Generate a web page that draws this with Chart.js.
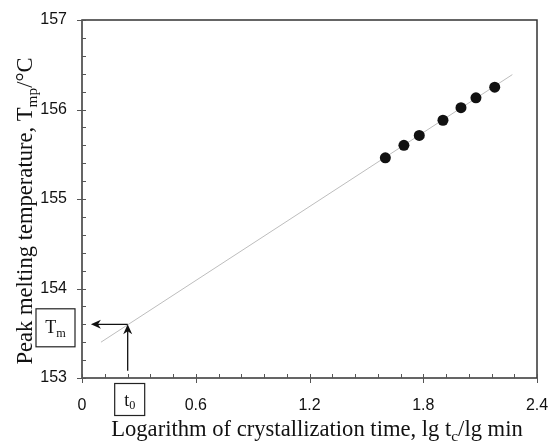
<!DOCTYPE html>
<html>
<head>
<meta charset="utf-8">
<script src="https://cdn.jsdelivr.net/npm/chart.js@4.4.1/dist/chart.umd.min.js"></script>
<style>
  html, body { margin: 0; padding: 0; background: #fff; }
  #wrap { width: 551px; height: 441px; position: relative; }
</style>
</head>
<body>
<div id="wrap"><canvas id="c" width="551" height="441"></canvas></div>
<script>
// ---- data ----
const lgTime   = [1.600, 1.698, 1.779, 1.904, 1.999, 2.078, 2.177];
const peakTemp = [155.46, 155.60, 155.71, 155.88, 156.02, 156.13, 156.25];
const fitX = [0.10, 2.27];
const fitY = [153.40, 156.39];
const t0Value = 0.241;      // extrapolated lg t0
const TmValue = 153.60;     // equilibrium melting temperature
const arrowStartY = 153.08; // vertical arrow tail
const arrowEndX = 0.047;    // horizontal arrow head
const xTickLabels = ['0', '0.6', '1.2', '1.8', '2.4'];
const yTickLabels = ['153', '154', '155', '156', '157'];
const xMin = 0, xMax = 2.4, xMinorStep = 0.12;
const yMin = 153, yMax = 157, yMinorStep = 0.2;

const fitData = fitX.map((x, i) => ({x, y: fitY[i]}));
const ptData = lgTime.map((x, i) => ({x, y: peakTemp[i]}));

const serif = '"Liberation Serif", "Times New Roman", serif';
const sans = '"Liberation Sans", Arial, sans-serif';

function drawSubText(ctx, parts, x, y, size, align) {
  let total = 0;
  const widths = parts.map(([t, sub]) => {
    ctx.font = (sub ? size * 0.68 : size) + 'px ' + serif;
    const w = ctx.measureText(t).width;
    total += w;
    return w;
  });
  let cx = align === 'center' ? x - total / 2 : x;
  parts.forEach(([t, sub], i) => {
    ctx.font = (sub ? size * 0.68 : size) + 'px ' + serif;
    ctx.textAlign = 'left';
    ctx.textBaseline = 'alphabetic';
    ctx.fillText(t, cx, y + (sub ? size * 0.22 : 0));
    cx += widths[i];
  });
}

function arrowHead(ctx, x, y, dir) {
  const L = 10, W = 4.5;
  ctx.beginPath();
  if (dir === 'up') {
    ctx.moveTo(x, y); ctx.lineTo(x - W, y + L); ctx.lineTo(x, y + L - 3); ctx.lineTo(x + W, y + L);
  } else {
    ctx.moveTo(x, y); ctx.lineTo(x + L, y - W); ctx.lineTo(x + L - 3, y); ctx.lineTo(x + L, y + W);
  }
  ctx.closePath();
  ctx.fill();
}

const decor = {
  id: 'decor',
  afterDatasetsDraw(chart) {
    const ctx = chart.ctx;
    const xs = chart.scales.x, ys = chart.scales.y;
    const a = chart.chartArea;
    ctx.save();
    // frame
    ctx.strokeStyle = '#333';
    ctx.lineWidth = 1.5;
    ctx.strokeRect(a.left, a.top, a.right - a.left, a.bottom - a.top);
    // ticks
    ctx.lineWidth = 1;
    ctx.strokeStyle = '#555';
    ctx.beginPath();
    for (let v = xMin; v <= xMax + 1e-9; v += xMinorStep) {
      const px = Math.round(xs.getPixelForValue(v)) + 0.5;
      const major = Math.abs(v / 0.6 - Math.round(v / 0.6)) < 1e-6;
      ctx.moveTo(px, a.bottom - 4);
      ctx.lineTo(px, a.bottom + (major ? 5 : 0));
    }
    for (let v = yMin; v <= yMax + 1e-9; v += yMinorStep) {
      const py = Math.round(ys.getPixelForValue(v)) + 0.5;
      const major = Math.abs(v - Math.round(v)) < 1e-6;
      ctx.moveTo(a.left + 4, py);
      ctx.lineTo(a.left - (major ? 5 : 0), py);
    }
    ctx.stroke();

    // arrows
    const tx = xs.getPixelForValue(t0Value);
    const ty = ys.getPixelForValue(TmValue);
    ctx.strokeStyle = '#111';
    ctx.fillStyle = '#111';
    ctx.lineWidth = 1.3;
    ctx.beginPath();
    ctx.moveTo(tx, ys.getPixelForValue(arrowStartY));
    ctx.lineTo(tx, ty + 4);
    ctx.moveTo(tx, ty);
    ctx.lineTo(xs.getPixelForValue(arrowEndX) + 4, ty);
    ctx.stroke();
    arrowHead(ctx, tx, ty, 'up');
    arrowHead(ctx, xs.getPixelForValue(arrowEndX), ty, 'left');

    // Tm box
    ctx.lineWidth = 1.2;
    ctx.strokeStyle = '#222';
    const bx = a.left - 46, by = ty - 16;
    ctx.strokeRect(bx, by + 0.5, 39, 38);
    ctx.fillStyle = '#111';
    drawSubText(ctx, [['T', false], ['m', true]], bx + 19.5, by + 25, 18, 'center');
    // t0 box
    const cx = tx - 13, cy = a.bottom + 5.5;
    ctx.strokeRect(cx, cy, 30, 32);
    drawSubText(ctx, [['t', false], ['0', true]], cx + 15, cy + 22, 18, 'center');

    // axis titles
    ctx.fillStyle = '#111';
    drawSubText(ctx, [['Logarithm of crystallization time, lg t', false], ['c', true], ['/lg min', false]],
      317, 436, 22.6, 'center');
    ctx.save();
    ctx.translate(32, 211);
    ctx.rotate(-Math.PI / 2);
    drawSubText(ctx, [['Peak melting temperature, T', false], ['mp', true], ['/°C', false]], 0, 0, 22.6, 'center');
    ctx.restore();
    ctx.restore();
  }
};

new Chart(document.getElementById('c'), {
  type: 'scatter',
  data: {
    datasets: [
      {
        label: 'fit',
        data: fitData,
        showLine: true,
        borderColor: '#bdbdbd',
        borderWidth: 1,
        pointRadius: 0,
        fill: false,
        order: 2
      },
      {
        label: 'Tmp',
        data: ptData,
        backgroundColor: '#111',
        borderColor: '#111',
        pointRadius: 5.5,
        borderWidth: 0,
        order: 1
      }
    ]
  },
  options: {
    responsive: false,
    animation: false,
    devicePixelRatio: 1,
    layout: { padding: { left: 0, top: 20, right: 14, bottom: 0 } },
    plugins: { legend: { display: false }, tooltip: { enabled: false } },
    scales: {
      x: {
        type: 'linear', min: xMin, max: xMax,
        afterFit: s => { s.height = 63; s.paddingLeft = 0; s.paddingRight = 0; },
        afterBuildTicks: s => { s.ticks = xTickLabels.map(t => ({value: parseFloat(t)})); },
        grid: { display: false, drawTicks: false },
        border: { display: false },
        ticks: {
          padding: 18,
          color: '#111',
          font: { family: sans, size: 16 },
          maxRotation: 0,
          autoSkip: false,
          callback: (v) => { const i = xTickLabels.findIndex(t => Math.abs(parseFloat(t) - v) < 1e-6); return i >= 0 ? xTickLabels[i] : ''; }
        }
      },
      y: {
        type: 'linear', min: yMin, max: yMax,
        afterFit: s => { s.width = 82; s.paddingTop = 0; s.paddingBottom = 0; },
        afterBuildTicks: s => { s.ticks = yTickLabels.map(t => ({value: parseFloat(t)})); },
        grid: { display: false, drawTicks: false },
        border: { display: false },
        ticks: {
          padding: 15,
          color: '#111',
          font: { family: sans, size: 16 },
          autoSkip: false,
          callback: (v) => { const i = yTickLabels.findIndex(t => Math.abs(parseFloat(t) - v) < 1e-6); return i >= 0 ? yTickLabels[i] : ''; }
        }
      }
    }
  },
  plugins: [decor]
});
</script>
</body>
</html>
